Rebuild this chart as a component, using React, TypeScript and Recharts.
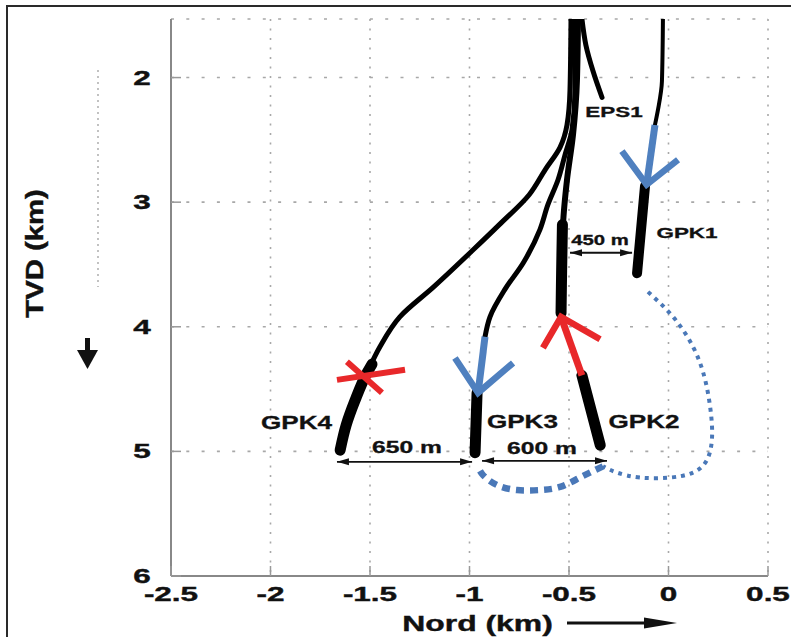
import { ComposedChart, Line, Scatter, XAxis, YAxis, CartesianGrid } from 'recharts'

type Pt = { x: number; y: number }
type Lbl = { x: number; y: number; text: string }

const xTicks = [-2.5, -2, -1.5, -1, -0.5, 0, 0.5]
const yTicks = [2, 3, 4, 5, 6]

// well trajectories: Nord (km) vs TVD (km)
const gpk4Path: Pt[] = [
  { x: -0.49, y: 1.53 }, { x: -0.495, y: 2.1 }, { x: -0.51, y: 2.38 }, { x: -0.545, y: 2.56 },
  { x: -0.62, y: 2.74 }, { x: -0.7, y: 2.94 }, { x: -0.85, y: 3.18 }, { x: -0.98, y: 3.38 },
  { x: -1.18, y: 3.68 }, { x: -1.35, y: 3.92 }, { x: -1.45, y: 4.16 }, { x: -1.515, y: 4.37 },
  { x: -1.575, y: 4.59 }, { x: -1.62, y: 4.79 }, { x: -1.65, y: 4.99 },
]
const gpk4Open: Pt[] = [
  { x: -1.49, y: 4.3 }, { x: -1.515, y: 4.37 }, { x: -1.575, y: 4.59 }, { x: -1.62, y: 4.79 }, { x: -1.65, y: 4.99 },
]
const gpk4CrossA: Pt[] = [{ x: -1.666, y: 4.426 }, { x: -1.324, y: 4.345 }]
const gpk4CrossB: Pt[] = [{ x: -1.616, y: 4.281 }, { x: -1.44, y: 4.53 }]

const gpk3Path: Pt[] = [
  { x: -0.47, y: 1.53 }, { x: -0.47, y: 2.1 }, { x: -0.485, y: 2.42 }, { x: -0.52, y: 2.62 },
  { x: -0.555, y: 2.82 }, { x: -0.606, y: 3.02 }, { x: -0.646, y: 3.22 }, { x: -0.731, y: 3.49 },
  { x: -0.822, y: 3.7 }, { x: -0.897, y: 3.92 }, { x: -0.922, y: 4.08 },
]
const gpk3Blue: Pt[] = [{ x: -0.922, y: 4.08 }, { x: -0.957, y: 4.53 }]
const gpk3Head: Pt[] = [{ x: -1.073, y: 4.25 }, { x: -0.957, y: 4.53 }, { x: -0.781, y: 4.29 }]
const gpk3Open: Pt[] = [{ x: -0.962, y: 4.53 }, { x: -0.972, y: 5.01 }]

const gpk2Path: Pt[] = [
  { x: -0.455, y: 1.53 }, { x: -0.46, y: 2.02 }, { x: -0.48, y: 2.46 }, { x: -0.51, y: 2.82 },
  { x: -0.53, y: 3.18 }, { x: -0.54, y: 3.89 },
]
const gpk2Upper: Pt[] = [{ x: -0.533, y: 3.18 }, { x: -0.537, y: 3.55 }, { x: -0.54, y: 3.89 }]
const gpk2Red: Pt[] = [{ x: -0.54, y: 3.92 }, { x: -0.435, y: 4.39 }]
const gpk2Head: Pt[] = [{ x: -0.631, y: 4.17 }, { x: -0.54, y: 3.92 }, { x: -0.344, y: 4.1 }]
const gpk2Open: Pt[] = [{ x: -0.435, y: 4.39 }, { x: -0.343, y: 4.95 }]

const gpk1Path: Pt[] = [{ x: -0.028, y: 1.53 }, { x: -0.033, y: 2.03 }, { x: -0.053, y: 2.26 }, { x: -0.068, y: 2.38 }]
const gpk1Blue: Pt[] = [{ x: -0.068, y: 2.38 }, { x: -0.11, y: 2.86 }]
const gpk1Head: Pt[] = [{ x: -0.234, y: 2.59 }, { x: -0.11, y: 2.86 }, { x: 0.048, y: 2.66 }]
const gpk1Open: Pt[] = [{ x: -0.118, y: 2.87 }, { x: -0.158, y: 3.57 }]

const eps1Path: Pt[] = [{ x: -0.435, y: 1.53 }, { x: -0.415, y: 1.74 }, { x: -0.379, y: 1.95 }, { x: -0.334, y: 2.16 }]

// dotted connection GPK1 -> GPK2 -> GPK3
const loopA: Pt[] = [
  { x: -0.103, y: 3.72 }, { x: 0.023, y: 3.92 }, { x: 0.123, y: 4.16 }, { x: 0.18, y: 4.4 },
  { x: 0.209, y: 4.64 }, { x: 0.219, y: 4.88 }, { x: 0.193, y: 5.07 }, { x: 0.123, y: 5.17 },
  { x: 0.008, y: 5.21 }, { x: -0.143, y: 5.21 }, { x: -0.259, y: 5.17 }, { x: -0.329, y: 5.12 },
]
const loopB: Pt[] = [
  { x: -0.329, y: 5.12 }, { x: -0.445, y: 5.21 }, { x: -0.545, y: 5.285 }, { x: -0.646, y: 5.31 },
  { x: -0.761, y: 5.31 }, { x: -0.862, y: 5.27 }, { x: -0.932, y: 5.19 }, { x: -0.957, y: 5.12 },
]

// spacing arrows
const dim450: Pt[] = [{ x: -0.495, y: 3.406 }, { x: -0.183, y: 3.406 }]
const dim650: Pt[] = [{ x: -1.666, y: 5.084 }, { x: -0.987, y: 5.084 }]
const dim600: Pt[] = [{ x: -0.937, y: 5.076 }, { x: -0.309, y: 5.076 }]

const upperLabels: Lbl[] = [
  { x: -0.274, y: 2.273, text: 'EPS1' },
  { x: 0.093, y: 3.245, text: 'GPK1' },
]
const lowerLabels: Lbl[] = [
  { x: -1.869, y: 4.771, text: 'GPK4' },
  { x: -0.734, y: 4.763, text: 'GPK3' },
  { x: -0.123, y: 4.763, text: 'GPK2' },
]
const distLabels: Lbl[] = [
  { x: -1.314, y: 4.964, text: '650 m' },
  { x: -0.636, y: 4.972, text: '600 m' },
]
const smallLabels: Lbl[] = [{ x: -0.344, y: 3.301, text: '450 m' }]

const FONT = '"Liberation Sans", Arial, Helvetica, sans-serif'
const BLUE = '#4f80bf'
const LOOP = '#4a78b8'
const RED = '#e8282a'

const XTick = (props: any) => {
  const { x, y, payload } = props
  return (
    <g>
      <line x1={x} x2={x} y1={y - 10} y2={y} stroke="#999" strokeWidth={1.5} />
      <text transform={`translate(${x},${y + 25}) scale(1.5,1)`} textAnchor="middle" fontFamily={FONT} fontWeight="bold" fontSize={21} fill="#111" stroke="#111" strokeWidth={0.4}>
        {payload.value}
      </text>
    </g>
  )
}

const YTick = (props: any) => {
  const { x, y, payload } = props
  return (
    <g>
      <line x1={x} x2={x + 10} y1={y} y2={y} stroke="#999" strokeWidth={1.5} />
      <text transform={`translate(${x - 29},${y + 7}) scale(1.5,1)`} textAnchor="middle" fontFamily={FONT} fontWeight="bold" fontSize={21} fill="#111" stroke="#111" strokeWidth={0.4}>
        {payload.value}
      </text>
    </g>
  )
}

const textShape = (size: number) => (p: any) => (
  <text
    transform={`translate(${p.cx},${p.cy + size * 0.36}) scale(1.45,1)`}
    textAnchor="middle"
    fontFamily={FONT}
    fontWeight="bold"
    fontSize={size}
    fill="#111"
    stroke="#111"
    strokeWidth={0.3}
  >
    {p.payload.text}
  </text>
)

const arrowDot = (p: any) => {
  const { cx, cy, index } = p
  const d = index === 0 ? 1 : -1
  return (
    <polygon
      key={`ah-${index}`}
      points={`${cx},${cy} ${cx + d * 12},${cy - 3.5} ${cx + d * 12},${cy + 3.5}`}
      fill="#111"
    />
  )
}

function seg(id: string, data: Pt[], color: string, width: number, extra: any = {}) {
  return (
    <Line
      key={id}
      data={data}
      dataKey="y"
      type="monotoneY"
      stroke={color}
      strokeWidth={width}
      strokeLinecap="round"
      strokeLinejoin="round"
      dot={false}
      activeDot={false}
      isAnimationActive={false}
      legendType="none"
      {...extra}
    />
  )
}

export default function App() {
  return (
    <div style={{ position: 'absolute', left: 0, top: 0, width: 791, height: 637, background: '#fff', overflow: 'hidden' }}>
      <div
        style={{
          position: 'absolute',
          left: 6,
          top: 5,
          width: 800,
          height: 700,
          borderTop: '2px solid #2a2a2a',
          borderLeft: '2px solid #2a2a2a',
          boxSizing: 'border-box',
        }}
      />
      <div style={{ position: 'absolute', left: 0, top: 0 }}>
        <ComposedChart width={791} height={637} margin={{ top: 19, right: 23, bottom: 31, left: 131 }}>
          <CartesianGrid vertical={false} stroke="#a8a8a8" strokeWidth={1.6} strokeDasharray="3 12.3" />
          <CartesianGrid horizontal={false} stroke="#a8a8a8" strokeWidth={1.6} strokeDasharray="2 7.5" />
          <XAxis
            dataKey="x"
            type="number"
            domain={[-2.5, 0.5]}
            ticks={xTicks}
            interval={0}
            allowDataOverflow
            height={30}
            tickSize={0}
            tickMargin={0}
            tickLine={false}
            axisLine={{ stroke: '#888', strokeWidth: 2 }}
            tick={<XTick />}
          />
          <YAxis
            dataKey="y"
            type="number"
            domain={[1.53, 6]}
            reversed
            ticks={yTicks}
            interval={0}
            allowDataOverflow
            width={40}
            tickSize={0}
            tickMargin={0}
            tickLine={false}
            axisLine={{ stroke: '#888', strokeWidth: 2 }}
            tick={<YTick />}
          />

          {seg('loopA', loopA, LOOP, 4, { type: 'natural', strokeDasharray: '4 5', strokeLinecap: 'butt' })}
          {seg('loopB', loopB, LOOP, 6.5, { type: 'natural', strokeDasharray: '8 6', strokeLinecap: 'butt' })}

          {seg('eps1', eps1Path, '#000', 5)}
          {seg('gpk4', gpk4Path, '#000', 5)}
          {seg('gpk3', gpk3Path, '#000', 5)}
          {seg('gpk2', gpk2Path, '#000', 6)}
          {seg('gpk1', gpk1Path, '#000', 4)}

          {seg('gpk4o', gpk4Open, '#000', 11)}
          {seg('gpk3o', gpk3Open, '#000', 11)}
          {seg('gpk2u', gpk2Upper, '#000', 11)}
          {seg('gpk2o', gpk2Open, '#000', 11)}
          {seg('gpk1o', gpk1Open, '#000', 10)}

          {seg('gpk3b', gpk3Blue, BLUE, 7, { strokeLinecap: 'butt' })}
          {seg('gpk3h', gpk3Head, BLUE, 6.5, { type: 'linear', strokeLinecap: 'butt', strokeLinejoin: 'miter' })}
          {seg('gpk1b', gpk1Blue, BLUE, 7, { strokeLinecap: 'butt' })}
          {seg('gpk1h', gpk1Head, BLUE, 6.5, { type: 'linear', strokeLinecap: 'butt', strokeLinejoin: 'miter' })}
          {seg('gpk2r', gpk2Red, RED, 7, { strokeLinecap: 'butt' })}
          {seg('gpk2h', gpk2Head, RED, 6.5, { type: 'linear', strokeLinecap: 'butt', strokeLinejoin: 'miter' })}
          {seg('gpk4xa', gpk4CrossA, RED, 6, { type: 'linear', strokeLinecap: 'butt' })}
          {seg('gpk4xb', gpk4CrossB, RED, 6, { type: 'linear', strokeLinecap: 'butt' })}

          {seg('d450', dim450, '#111', 1.8, { type: 'linear', strokeLinecap: 'butt', dot: arrowDot })}
          {seg('d650', dim650, '#111', 1.8, { type: 'linear', strokeLinecap: 'butt', dot: arrowDot })}
          {seg('d600', dim600, '#111', 1.8, { type: 'linear', strokeLinecap: 'butt', dot: arrowDot })}

          <Scatter data={upperLabels} dataKey="y" shape={textShape(15.5)} isAnimationActive={false} />
          <Scatter data={lowerLabels} dataKey="y" shape={textShape(18)} isAnimationActive={false} />
          <Scatter data={distLabels} dataKey="y" shape={textShape(17)} isAnimationActive={false} />
          <Scatter data={smallLabels} dataKey="y" shape={textShape(14)} isAnimationActive={false} />
        </ComposedChart>
      </div>

      <svg width={791} height={637} style={{ position: 'absolute', left: 0, top: 0, pointerEvents: 'none' }}>
        <line x1={98} y1={70} x2={98} y2={287} stroke="#999" strokeWidth={1.2} strokeDasharray="2 4" />
        <text
          transform="translate(43,253.5) rotate(-90) scale(1.22,1)"
          textAnchor="middle"
          fontFamily={FONT}
          fontWeight="bold"
          fontSize={24}
          fill="#111"
          stroke="#111"
          strokeWidth={0.4}
        >
          TVD (km)
        </text>
        <line x1={87.5} y1={338} x2={87.5} y2={353} stroke="#111" strokeWidth={5} />
        <polygon points="77,350 98,350 87.5,369" fill="#111" />
        <text
          transform="translate(477.5,631) scale(1.45,1)"
          textAnchor="middle"
          fontFamily={FONT}
          fontWeight="bold"
          fontSize={22}
          fill="#111"
          stroke="#111"
          strokeWidth={0.4}
        >
          Nord (km)
        </text>
        <line x1={567} y1={623} x2={648} y2={623} stroke="#111" strokeWidth={3} />
        <polygon points="644,617.5 644,628.5 677,623" fill="#111" />
      </svg>
    </div>
  )
}
